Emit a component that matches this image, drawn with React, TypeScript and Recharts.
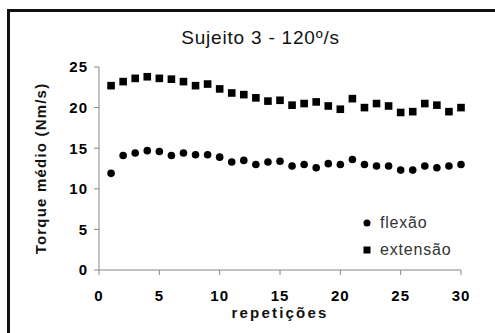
import React from "react";
import {
  ScatterChart,
  Scatter,
  XAxis,
  YAxis,
  Legend,
} from "recharts";

const repeticoes = [
  1, 2, 3, 4, 5, 6, 7, 8, 9, 10, 11, 12, 13, 14, 15,
  16, 17, 18, 19, 20, 21, 22, 23, 24, 25, 26, 27, 28, 29, 30,
];

const flexao = [
  11.9, 14.1, 14.4, 14.7, 14.6, 14.1, 14.4, 14.2, 14.2, 13.9,
  13.3, 13.5, 13.0, 13.3, 13.4, 12.8, 13.0, 12.6, 13.1, 13.0,
  13.6, 13.0, 12.8, 12.8, 12.3, 12.3, 12.8, 12.6, 12.8, 13.0,
];

const extensao = [
  22.7, 23.2, 23.6, 23.8, 23.6, 23.5, 23.2, 22.7, 22.9, 22.3,
  21.8, 21.6, 21.2, 20.8, 20.9, 20.3, 20.5, 20.7, 20.2, 19.8,
  21.1, 20.0, 20.5, 20.2, 19.4, 19.5, 20.5, 20.3, 19.5, 20.0,
];

const xTicks = [0, 5, 10, 15, 20, 25, 30];
const yTicks = [0, 5, 10, 15, 20, 25];

const seriesNames = ["flexão", "extensão"];
const title = "Sujeito 3 - 120º/s";
const xLabel = "repetições";
const yLabel = "Torque médio (Nm/s)";

const flexaoData = repeticoes.map((x, i) => ({ x, y: flexao[i] }));
const extensaoData = repeticoes.map((x, i) => ({ x, y: extensao[i] }));

const font = "'Liberation Sans', Arial, sans-serif";
const axisGray = "#868686";
const tickStyle = { fill: "#000", fontSize: 15, fontWeight: "bold", fontFamily: font, letterSpacing: 1 };

const Dot = (props: any) => (
  <circle cx={props.cx} cy={props.cy} r={3.8} fill="#000" />
);

const Sq = (props: any) => (
  <rect x={props.cx - 3.8} y={props.cy - 3.8} width={7.6} height={7.6} fill="#000" />
);

function LegendBox() {
  return (
    <div style={{ fontFamily: font, fontSize: 16, color: "#333", letterSpacing: 0.8 }}>
      {seriesNames.map((name, i) => (
        <div key={name} style={{ display: "flex", alignItems: "center", height: 27.5 }}>
          <svg width={8} height={8}>
            {i === 0 ? (
              <circle cx={4} cy={4} r={3.5} fill="#000" />
            ) : (
              <rect x={0.5} y={0.5} width={7} height={7} fill="#000" />
            )}
          </svg>
          <span style={{ marginLeft: 9 }}>{name}</span>
        </div>
      ))}
    </div>
  );
}

export default function App() {
  return (
    <div
      style={{
        position: "absolute",
        left: 0,
        top: 0,
        width: 495,
        height: 333,
        overflow: "hidden",
        background: "#fff",
        fontFamily: font,
      }}
    >
      <div
        style={{
          position: "absolute",
          left: 7,
          top: 9,
          width: 600,
          height: 400,
          borderTop: "3px solid #111",
          borderLeft: "3px solid #111",
        }}
      />
      <div
        style={{
          position: "absolute",
          left: 0,
          top: 28,
          width: 521,
          textAlign: "center",
          fontSize: 19,
          lineHeight: "19px",
          letterSpacing: 0.8,
          color: "#111",
        }}
      >
        {title}
      </div>
      <div style={{ position: "absolute", left: 0, top: 0 }}>
        <ScatterChart
          width={495}
          height={333}
          margin={{ top: 67, right: 34, bottom: 15, left: 39 }}
        >
          <XAxis
            type="number"
            dataKey="x"
            domain={[0, 30]}
            ticks={xTicks}
            interval={0}
            height={48}
            stroke={axisGray}
            tickSize={5}
            tickMargin={15}
            tick={tickStyle}
            label={{
              value: xLabel,
              position: "insideBottom",
              offset: 0,
              style: { fill: "#111", fontSize: 15, fontWeight: "bold", fontFamily: font, letterSpacing: 2.2 },
            }}
          />
          <YAxis
            type="number"
            dataKey="y"
            domain={[0, 25]}
            ticks={yTicks}
            interval={0}
            width={60}
            stroke={axisGray}
            tickSize={5}
            tickMargin={6}
            tick={tickStyle}
            label={{
              value: yLabel,
              angle: -90,
              position: "insideLeft",
              offset: 2,
              style: { textAnchor: "middle", fill: "#111", fontSize: 15, fontWeight: "bold", fontFamily: font, letterSpacing: 1.2 },
            }}
          />
          <Legend
            layout="vertical"
            align="center"
            verticalAlign="middle"
            wrapperStyle={{ left: 363, top: 209, width: 120, height: 56 }}
            content={() => <LegendBox />}
          />
          <Scatter
            name={seriesNames[0]}
            data={flexaoData}
            fill="#000"
            shape={Dot}
            isAnimationActive={false}
          />
          <Scatter
            name={seriesNames[1]}
            data={extensaoData}
            fill="#000"
            shape={Sq}
            isAnimationActive={false}
          />
        </ScatterChart>
      </div>
    </div>
  );
}
